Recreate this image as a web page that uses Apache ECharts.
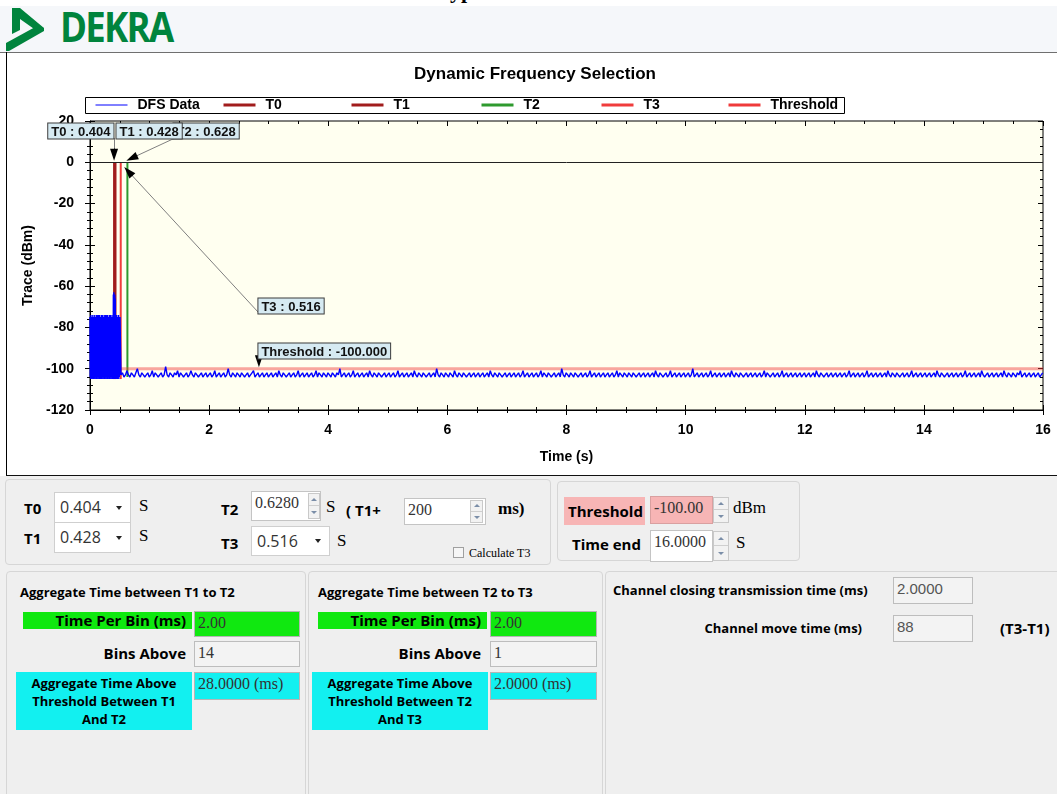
<!DOCTYPE html>
<html>
<head>
<meta charset="utf-8">
<title>DFS</title>
<script src="https://cdn.jsdelivr.net/npm/echarts@6.0.0/dist/echarts.min.js"></script>
<style>
  html, body { margin: 0; padding: 0; }
  body { width: 1057px; height: 794px; overflow: hidden; background: #fff; position: relative;
         font-family: "Open Sans", sans-serif; color: #000; }
  .a { position: absolute; }
  .t { position: absolute; white-space: nowrap; height: 20px; line-height: 20px; }
  .b { font-weight: bold; font-size: 15px; }
  .h { font-weight: bold; font-size: 13px; }
  .serif { font-family: "Liberation Serif", serif; font-size: 17px; }
  .panel { position: absolute; border: 1px solid #d6d6d6; border-radius: 4px; background: #efefef; box-sizing: border-box; }
  .box { position: absolute; box-sizing: border-box; border: 1px solid #c4c4c4; background: #fff;
         font-family: "Liberation Serif", serif; font-size: 16px; color: #333; padding: 2px 0 0 3px; white-space: nowrap; }
  .combo { position: absolute; box-sizing: border-box; border: 1px solid #cfcfcf; background: #fff;
           font-size: 16px; color: #333; padding-left: 5px; white-space: nowrap; }
  .combo:after { content: ''; position: absolute; right: 8px; top: 50%; margin-top: -2px;
                 border-left: 3px solid transparent; border-right: 3px solid transparent; border-top: 4px solid #222; }
  .spin { position: absolute; box-sizing: border-box; border: 1px solid #c9c9c9; background: #f2f2f2; }
  .spin i { display: block; height: 50%; box-sizing: border-box; position: relative; }
  .spin i.up { border-bottom: 1px solid #cfcfcf; }
  .spin i:after { content: ''; position: absolute; left: 50%; top: 50%; margin-left: -3px;
                  border-left: 3px solid transparent; border-right: 3px solid transparent; }
  .spin i.up:after { margin-top: -2px; border-bottom: 3px solid #7b8ea8; }
  .spin i.dn:after { margin-top: -1px; border-top: 3px solid #7b8ea8; }
  .ro { background: #f3f3f3; border-color: #bdbdbd; }
</style>
</head>
<body>

<!-- header -->
<div class="a" style="left:0;top:6px;width:1057px;height:46px;background:#f5f7fa;"></div>
<div class="a" style="left:437px;top:-20px;font:bold 22px/22px 'Liberation Serif',serif;white-space:nowrap;">Type</div>
<svg class="a" style="left:0;top:0" width="60" height="53">
  <polygon points="12,8 20,8 44,28 37,31 20,19 20,30 12,34" fill="#00843d"/>
  <polygon points="37,26 44,28 44,31 9,51 6,51 6,43" fill="#00843d"/>
</svg>
<div class="a" style="left:60px;top:5px;font:bold 42px/42px 'Open Sans',sans-serif;color:#00843d;letter-spacing:-2px;transform:scaleX(0.87);transform-origin:0 0;white-space:nowrap;">DEKRA</div>
<div class="a" style="left:0;top:52px;width:1057px;height:2px;background:#6f6f6f;"></div>

<!-- chart panel -->
<div id="chart" class="a" style="left:0;top:53px;width:1057px;height:422px;"></div>
<div class="a" style="left:6px;top:52px;width:1px;height:424px;background:#000;"></div>
<div class="a" style="left:6px;top:475px;width:1051px;height:1px;background:#111;"></div>

<!-- form area -->
<div class="a" style="left:0;top:476px;width:1057px;height:318px;background:#f0f0f0;"></div>

<div class="panel" style="left:5px;top:479px;width:546px;height:86px;"></div>
<div class="t b" style="left:24px;top:498px;">T0</div>
<div class="combo" style="left:54px;top:492px;width:77px;height:31px;line-height:29px;">0.404</div>
<div class="t serif" style="left:139px;top:496px;">S</div>
<div class="t b" style="left:24px;top:528px;">T1</div>
<div class="combo" style="left:54px;top:522px;width:77px;height:31px;line-height:29px;">0.428</div>
<div class="t serif" style="left:139px;top:526px;">S</div>

<div class="t b" style="left:221px;top:499px;">T2</div>
<div class="box" style="left:251px;top:491px;width:70px;height:30px;">0.6280</div>
<div class="spin" style="left:308px;top:493px;width:12px;height:26px;"><i class="up"></i><i class="dn"></i></div>
<div class="t serif" style="left:326px;top:497px;">S</div>
<div class="t b" style="left:346px;top:500px;">( T1+</div>
<div class="box" style="left:404px;top:498px;width:82px;height:27px;">200</div>
<div class="spin" style="left:470px;top:500px;width:13px;height:23px;"><i class="up"></i><i class="dn"></i></div>
<div class="t serif" style="left:498px;top:499px;font-weight:bold;">ms)</div>
<div class="a" style="left:453px;top:547px;width:11px;height:11px;box-sizing:border-box;border:1px solid #a0a0a0;background:#f6f6f6;"></div>
<div class="t" style="left:469px;top:543px;font:12px/20px 'Liberation Serif',serif;">Calculate T3</div>
<div class="t b" style="left:221px;top:533px;">T3</div>
<div class="combo" style="left:251px;top:526px;width:79px;height:30px;line-height:28px;">0.516</div>
<div class="t serif" style="left:337px;top:531px;">S</div>

<div class="panel" style="left:557px;top:481px;width:243px;height:80px;"></div>
<div class="t b" style="left:564px;top:497px;width:81px;height:28px;line-height:28px;background:#f7b5b5;padding-left:4px;box-sizing:border-box;">Threshold</div>
<div class="box" style="left:650px;top:496px;width:63px;height:28px;background:#f7b5b5;border-color:#d9a0a0;">-100.00</div>
<div class="spin" style="left:713px;top:497px;width:16px;height:26px;"><i class="up"></i><i class="dn"></i></div>
<div class="t serif" style="left:733px;top:498px;">dBm</div>
<div class="t b" style="left:572px;top:534px;">Time end</div>
<div class="box" style="left:650px;top:530px;width:63px;height:32px;">16.0000</div>
<div class="spin" style="left:713px;top:531px;width:16px;height:30px;"><i class="up"></i><i class="dn"></i></div>
<div class="t serif" style="left:736px;top:533px;">S</div>

<!-- aggregate panels -->
<div class="panel" style="left:6px;top:571px;width:300px;height:240px;"></div>
<div class="t h" style="left:20px;top:582px;">Aggregate Time between T1 to T2</div>
<div class="t b" style="left:23px;top:612px;width:169px;height:17px;line-height:17px;background:#0fe80f;text-align:right;padding-right:6px;box-sizing:border-box;">Time Per Bin (ms)</div>
<div class="box" style="left:194px;top:611px;width:106px;height:26px;background:#10e810;border-color:#b5b5b5;">2.00</div>
<div class="t b" style="left:23px;top:643px;width:169px;text-align:right;padding-right:6px;box-sizing:border-box;">Bins Above</div>
<div class="box ro" style="left:194px;top:641px;width:106px;height:26px;">14</div>
<div class="a h" style="left:16px;top:672px;width:176px;height:58px;background:#12f0f0;text-align:center;line-height:18px;padding-top:2px;box-sizing:border-box;">Aggregate Time Above<br>Threshold Between T1<br>And T2</div>
<div class="box" style="left:194px;top:672px;width:106px;height:28px;background:#12f0f0;border-color:#b5b5b5;">28.0000 (ms)</div>

<div class="panel" style="left:308px;top:571px;width:295px;height:240px;"></div>
<div class="t h" style="left:318px;top:582px;">Aggregate Time between T2 to T3</div>
<div class="t b" style="left:318px;top:612px;width:169px;height:17px;line-height:17px;background:#0fe80f;text-align:right;padding-right:6px;box-sizing:border-box;">Time Per Bin (ms)</div>
<div class="box" style="left:490px;top:611px;width:107px;height:26px;background:#10e810;border-color:#b5b5b5;">2.00</div>
<div class="t b" style="left:318px;top:643px;width:169px;text-align:right;padding-right:6px;box-sizing:border-box;">Bins Above</div>
<div class="box ro" style="left:490px;top:641px;width:107px;height:26px;">1</div>
<div class="a h" style="left:312px;top:672px;width:176px;height:58px;background:#12f0f0;text-align:center;line-height:18px;padding-top:2px;box-sizing:border-box;">Aggregate Time Above<br>Threshold Between T2<br>And T3</div>
<div class="box" style="left:490px;top:672px;width:107px;height:28px;background:#12f0f0;border-color:#b5b5b5;">2.0000 (ms)</div>

<div class="panel" style="left:605px;top:571px;width:470px;height:240px;"></div>
<div class="t h" style="left:613px;top:580px;">Channel closing transmission time (ms)</div>
<div class="box ro" style="left:893px;top:577px;width:80px;height:27px;font-family:'Liberation Sans',sans-serif;font-size:15px;color:#555;">2.0000</div>
<div class="t h" style="left:600px;top:618px;width:262px;text-align:right;">Channel move time (ms)</div>
<div class="box ro" style="left:893px;top:615px;width:80px;height:27px;font-family:'Liberation Sans',sans-serif;font-size:15px;color:#555;">88</div>
<div class="t b" style="left:1000px;top:618px;">(T3-T1)</div>

<script>
// ---- values ----
var xRange = [0, 16];
var xStep = 2;
var yRange = [-120, 20];
var yStep = 20;

// burst before the channel move: 4 ms samples from t = 0
var burstStart = 0;
var burstStep = 0.004;
var burstValues = [
  -75, -104, -76, -105, -74, -103, -77, -104, -75, -105, -76, -103, -74, -104, -78, -105,
  -75, -104, -76, -103, -74, -105, -77, -104, -75, -103, -76, -105, -74, -104, -75, -103,
  -77, -105, -74, -104, -76, -103, -75, -105, -74, -104, -77, -103, -75, -105, -76, -104,
  -74, -105, -75, -104, -76, -103, -74, -105, -77, -104, -75, -103, -76, -105, -74, -104,
  -75, -103, -77, -105, -74, -104, -76, -103, -75, -105, -74, -104, -77, -103, -75, -105,
  -76, -104, -74, -105, -75, -104, -76, -103, -74, -105, -77, -104, -75, -103, -76, -105,
  -74, -104, -64, -105, -63, -104, -65, -105, -64, -104, -66, -103, -75, -105, -76, -104,
  -74, -103, -77, -105, -75, -104, -76, -103, -74, -105, -75, -104, -77, -103, -75
];

// noise floor after the move: 25 ms samples from t = 0.52 s
var floorStart = 0.52;
var floorStep = 0.025;
var floorValues = [
  -103, -102, -104, -103, -101, -103, -104, -102, -103, -104, -102, -100, -103, -104, -102, -103, -104, -103, -102, -104,
  -103, -101, -104, -102, -103, -104, -103, -102, -104, -103, -99, -103, -104, -102, -103, -104, -102, -103, -101, -104,
  -102, -103, -104, -103, -102, -104, -103, -101, -103, -104, -102, -103, -104, -103, -102, -104, -103, -102, -104, -103,
  -102, -104, -103, -101, -104, -103, -102, -104, -103, -102, -104, -103, -100, -103, -104, -102, -103, -104, -102, -103,
  -104, -102, -103, -104, -103, -102, -104, -103, -102, -101, -104, -103, -102, -104, -103, -102, -104, -103, -102, -104,
  -103, -102, -104, -103, -102, -104, -101, -103, -104, -102, -103, -104, -103, -102, -104, -103, -102, -104, -103, -101,
  -104, -103, -102, -104, -103, -102, -104, -103, -102, -104, -103, -101, -104, -102, -103, -104, -102, -103, -104, -102,
  -103, -104, -102, -103, -104, -102, -103, -100, -104, -103, -102, -104, -103, -102, -104, -103, -101, -104, -103, -102,
  -104, -103, -102, -104, -103, -102, -104, -101, -103, -104, -102, -103, -104, -102, -103, -104, -103, -102, -104, -103,
  -102, -104, -103, -102, -104, -103, -101, -104, -103, -102, -104, -103, -102, -104, -103, -102, -104, -101, -103, -104,
  -102, -103, -104, -102, -103, -104, -103, -102, -104, -103, -102, -104, -100, -103, -104, -102, -103, -104, -102, -103,
  -104, -102, -103, -104, -101, -103, -104, -102, -103, -104, -102, -103, -104, -103, -102, -104, -103, -102, -104, -103,
  -102, -104, -103, -102, -104, -103, -102, -104, -101, -103, -104, -102, -103, -104, -102, -103, -104, -103, -102, -104,
  -103, -102, -104, -103, -102, -104, -103, -102, -104, -103, -101, -104, -103, -102, -104, -103, -102, -104, -103, -102,
  -104, -103, -101, -104, -102, -103, -104, -102, -103, -104, -103, -102, -104, -103, -102, -104, -100, -103, -104, -102,
  -103, -104, -102, -103, -104, -102, -103, -104, -103, -102, -104, -103, -102, -104, -103, -101, -104, -103, -102, -104,
  -103, -102, -104, -103, -102, -104, -103, -102, -104, -103, -102, -104, -103, -101, -104, -102, -103, -104, -102, -103,
  -104, -102, -103, -104, -102, -103, -104, -103, -102, -104, -103, -102, -104, -103, -102, -104, -103, -102, -104, -101,
  -103, -104, -102, -103, -104, -103, -102, -104, -103, -101, -104, -103, -102, -104, -103, -102, -104, -103, -102, -104,
  -103, -102, -104, -103, -100, -104, -103, -102, -104, -103, -102, -104, -103, -102, -104, -103, -101, -104, -103, -102,
  -104, -103, -102, -104, -103, -102, -104, -103, -102, -104, -101, -103, -104, -102, -103, -104, -102, -103, -104, -103,
  -102, -104, -103, -102, -104, -103, -102, -104, -103, -102, -104, -103, -101, -104, -102, -103, -104, -103, -102, -104,
  -103, -102, -104, -103, -101, -104, -103, -102, -104, -103, -102, -104, -103, -102, -104, -103, -102, -104, -103, -102,
  -104, -103, -102, -104, -103, -102, -104, -101, -103, -104, -102, -103, -104, -103, -102, -104, -103, -102, -104, -103,
  -102, -104, -103, -102, -104, -103, -102, -104, -103, -101, -104, -103, -102, -104, -103, -102, -104, -103, -102, -104,
  -103, -101, -104, -103, -102, -104, -103, -102, -104, -103, -102, -104, -103, -102, -104, -101, -103, -104, -102, -103,
  -104, -102, -103, -104, -103, -102, -104, -103, -102, -104, -103, -101, -104, -103, -102, -104, -103, -102, -104, -103,
  -102, -104, -103, -102, -104, -103, -102, -104, -101, -103, -104, -102, -103, -104, -103, -102, -104, -103, -102, -104,
  -103, -102, -104, -103, -102, -104, -103, -101, -104, -103, -102, -104, -103, -102, -104, -103, -102, -104, -101, -103,
  -104, -103, -102, -104, -103, -102, -104, -103, -102, -104, -103, -102, -104, -101, -103, -104, -102, -103, -104, -102,
  -103, -104, -102, -103, -101, -104, -103, -102, -104, -103, -102, -104, -103, -102, -104, -103, -102, -104, -103, -102
];

var markerNames = ['T0', 'T1', 'T2', 'T3'];
var markerTimes = [0.404, 0.428, 0.628, 0.516];
var markerBottoms = [-105, -105, -104, -105];
var thresholdDbm = -100;

var legendNames = ['DFS Data', 'T0', 'T1', 'T2', 'T3', 'Threshold'];

// ---- styles ----
var font = 'Liberation Sans, Arial, sans-serif';
var markerColors = ['#a11c1c', '#a11c1c', '#2e9a2e', '#f03c3c'];
var thresholdColor = '#ef3a3a';
var legendLeft = [95, 222, 350, 480, 600, 727];
var legendLineWidth = [1, 3, 3, 3, 3, 3];

var dfsData = [];
burstValues.forEach(function (v, i) { dfsData.push([+(burstStart + i * burstStep).toFixed(3), v]); });
floorValues.forEach(function (v, i) { dfsData.push([+(floorStart + i * floorStep).toFixed(3), v]); });

function fmt(name, v) { return name + ' : ' + v.toFixed(3); }

var boxLabel = {
  show: true, distance: 0, fontFamily: font, fontSize: 13, fontWeight: 'bold', color: '#111',
  backgroundColor: '#d6eaf2', borderColor: '#3c3c3c', borderWidth: 1, padding: [2, 3, 0, 3]
};
function callout(coord, pos, text) {
  return { coord: coord, label: Object.assign({}, boxLabel, { position: pos, formatter: text }) };
}

// callout boxes and arrows, in data units
var calloutBoxes = [
  callout([1.41, 11.8], 'insideBottomLeft', fmt(markerNames[2], markerTimes[2])),
  callout([0.386, 11.8], 'insideBottomRight', fmt(markerNames[0], markerTimes[0])),
  callout([0.453, 11.8], 'insideBottomLeft', fmt(markerNames[1], markerTimes[1])),
  callout([2.836, -73.0], 'insideBottomLeft', fmt(markerNames[3], markerTimes[3])),
  callout([2.836, -94.8], 'insideBottomLeft', fmt('Threshold', thresholdDbm))
];
var calloutArrows = [
  [[markerTimes[0], 11.8], [markerTimes[0], 0.8]],
  [[1.46, 12.2], [0.61, 0.8]],
  [[2.836, -73.0], [0.575, -2.3]],
  [[2.836, -94.8], [2.836, -99.3]]
];

function axisCommon(min, max, step) {
  return {
    type: 'value', min: min, max: max, interval: step, gridIndex: 0,
    splitLine: { show: false },
    axisLine: { show: true, onZero: false, lineStyle: { color: '#000', width: 1 } },
    axisTick: { show: true, length: 5, lineStyle: { color: '#000' } },
    minorTick: { show: true, length: 3, lineStyle: { color: '#000' } },
    axisLabel: { show: false }
  };
}

var xMain = axisCommon(xRange[0], xRange[1], xStep);
xMain.position = 'bottom';
xMain.minorTick.splitNumber = 4;
xMain.axisLabel = { show: true, margin: 13, fontFamily: font, fontSize: 14, fontWeight: 'bold', color: '#000' };
xMain.name = 'Time (s)';
xMain.nameLocation = 'middle';
xMain.nameGap = 40;
xMain.nameTextStyle = { fontFamily: font, fontSize: 14, fontWeight: 'bold', color: '#000' };

var xIn = axisCommon(xRange[0], xRange[1], xStep);
xIn.position = 'bottom';
xIn.axisLine.show = false;
xIn.axisTick.inside = true;
xIn.minorTick.splitNumber = 4;
var xTop = axisCommon(xRange[0], xRange[1], xStep);
xTop.position = 'top';
xTop.axisLine.show = false;
xTop.axisTick.inside = true;
xTop.minorTick.splitNumber = 4;

var yMain = axisCommon(yRange[0], yRange[1], yStep);
yMain.position = 'left';
yMain.minorTick.splitNumber = 5;
yMain.axisLabel = { show: true, margin: 16, fontFamily: font, fontSize: 14, fontWeight: 'bold', color: '#000' };
yMain.name = 'Trace (dBm)';
yMain.nameLocation = 'middle';
yMain.nameGap = 55;
yMain.nameTextStyle = { fontFamily: font, fontSize: 14, fontWeight: 'bold', color: '#000' };

var yIn = axisCommon(yRange[0], yRange[1], yStep);
yIn.position = 'left';
yIn.axisLine.show = false;
yIn.axisTick.inside = true;
yIn.minorTick.splitNumber = 5;
var yRight = axisCommon(yRange[0], yRange[1], yStep);
yRight.position = 'right';
yRight.axisLine.show = false;
yRight.axisTick.inside = true;
yRight.minorTick.splitNumber = 5;

var series = markerNames.map(function (name, i) {
  return {
    name: name, type: 'line', symbol: 'none', silent: true, z: 2,
    data: [[markerTimes[i], 0], [markerTimes[i], markerBottoms[i]]],
    lineStyle: { color: markerColors[i], width: 2 }, itemStyle: { color: markerColors[i] }
  };
});
series.push({
  name: 'Threshold', type: 'line', symbol: 'none', silent: true, z: 2,
  data: [[xRange[0], thresholdDbm], [xRange[1], thresholdDbm]],
  lineStyle: { color: thresholdColor, width: 3, opacity: 0.45 }, itemStyle: { color: thresholdColor }
});
series.push({
  name: 'DFS Data', type: 'line', symbol: 'none', silent: true, z: 3,
  data: dfsData,
  lineStyle: { color: '#0000ff', width: 1.4 }, itemStyle: { color: '#0000ff' }
});
series.push({
  id: 'callouts', name: 'callouts', type: 'line', data: [], z: 10, silent: true,
  markPoint: {
    silent: true, animation: false, symbol: 'rect', symbolSize: 1,
    itemStyle: { color: 'rgba(0,0,0,0)' },
    data: calloutBoxes
  }
});

var legends = legendNames.map(function (name, i) {
  var item = { name: name, lineStyle: { width: legendLineWidth[i], opacity: 1 }, itemStyle: { opacity: 0 } };
  return {
    data: [item], left: legendLeft[i], top: 45, padding: 0, itemWidth: 32, itemHeight: 14,
    selectedMode: false, z: 5,
    textStyle: { fontFamily: font, fontSize: 14, fontWeight: 'bold', color: '#000', padding: [0, 0, 0, 5] }
  };
});

var chart = echarts.init(document.getElementById('chart'), null, { renderer: 'canvas' });
chart.setOption({
  animation: false,
  backgroundColor: '#fff',
  title: {
    text: 'Dynamic Frequency Selection', left: 535, top: 13, padding: 0, textAlign: 'center',
    textStyle: { fontFamily: font, fontSize: 17, fontWeight: 'bold', color: '#000' }
  },
  graphic: [{
    type: 'rect', z: 1, shape: { x: 85.5, y: 44.5, width: 759, height: 16 },
    style: { fill: '#fff', stroke: '#000', lineWidth: 1 }
  }],
  legend: legends,
  grid: {
    left: 90, right: 14, top: 68, bottom: 65, show: true, outerBoundsMode: 'none',
    backgroundColor: '#fffff0', borderColor: '#000', borderWidth: 1
  },
  xAxis: [xMain, xIn, xTop],
  yAxis: [yMain, yIn, yRight],
  series: series
});

// arrows: gray shaft, black head placed with the axis scales
function toPx(p) { return chart.convertToPixel({ seriesIndex: 0 }, p); }
function fromPx(p) { return chart.convertFromPixel({ seriesIndex: 0 }, p); }
var lines = [{ yAxis: 0, lineStyle: { color: '#222', width: 1, type: 'solid' } }];
calloutArrows.forEach(function (ar) {
  var a = toPx(ar[0]), b = toPx(ar[1]);
  var dx = b[0] - a[0], dy = b[1] - a[1], len = Math.sqrt(dx * dx + dy * dy);
  var ux = dx / len, uy = dy / len;
  var base = fromPx([b[0] - ux * 11, b[1] - uy * 11]);
  var mid = fromPx([b[0] - ux * 6, b[1] - uy * 6]);
  var back = fromPx([b[0] - ux * 12, b[1] - uy * 12]);
  var gray = { color: '#808080', width: 1, type: 'solid' };
  lines.push([{ coord: ar[0], lineStyle: gray }, { coord: base, lineStyle: gray }]);
  var blk = { color: '#000', width: 1, type: 'solid' };
  lines.push([{ coord: back, lineStyle: blk }, { coord: mid, symbol: 'triangle', symbolSize: [8, 12], lineStyle: blk }]);
});
chart.setOption({
  series: [{
    id: 'callouts',
    markLine: {
      silent: true, animation: false, symbol: ['none', 'none'], label: { show: false },
      lineStyle: { type: 'solid' },
      emphasis: { disabled: true },
      data: lines
    }
  }]
});
</script>
</body>
</html>
